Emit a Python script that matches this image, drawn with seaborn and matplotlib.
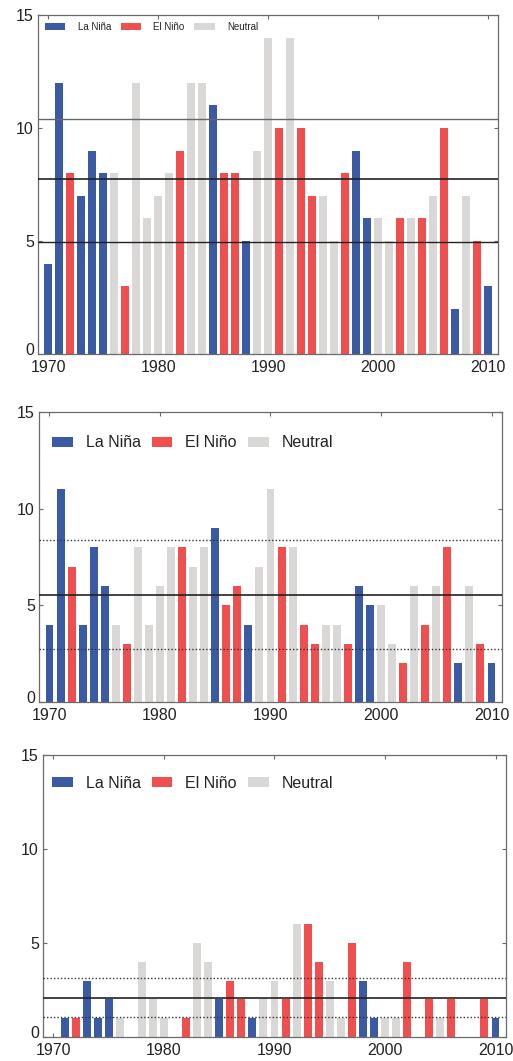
import matplotlib
matplotlib.use("Agg")
import matplotlib.pyplot as plt
import matplotlib.transforms as mtransforms
from matplotlib.patches import Patch
import seaborn as sns
import pandas as pd

years = list(range(1970, 2011))
phase = ["La Niña", "La Niña", "El Niño", "La Niña", "La Niña", "La Niña", "Neutral", "El Niño", "Neutral", "Neutral",
         "Neutral", "Neutral", "El Niño", "Neutral", "Neutral", "La Niña", "El Niño", "El Niño", "La Niña", "Neutral",
         "Neutral", "El Niño", "Neutral", "El Niño", "El Niño", "Neutral", "Neutral", "El Niño", "La Niña", "La Niña",
         "Neutral", "Neutral", "El Niño", "Neutral", "El Niño", "Neutral", "El Niño", "La Niña", "Neutral", "El Niño",
         "La Niña"]
counts_top = [4, 12, 8, 7, 9, 8, 8, 3, 12, 6,
              7, 8, 9, 12, 12, 11, 8, 8, 5, 9,
              14, 10, 14, 10, 7, 7, 5, 8, 9, 6,
              6, 5, 6, 6, 6, 7, 10, 2, 7, 5, 3]
counts_mid = [4, 11, 7, 4, 8, 6, 4, 3, 8, 4,
              6, 8, 8, 7, 8, 9, 5, 6, 4, 7,
              11, 8, 8, 4, 3, 4, 4, 3, 6, 5,
              5, 3, 2, 6, 4, 6, 8, 2, 6, 3, 2]
counts_bot = [0, 1, 1, 3, 1, 2, 1, 0, 4, 2,
              1, 0, 1, 5, 4, 2, 3, 2, 1, 2,
              3, 2, 6, 6, 4, 3, 1, 5, 3, 1,
              1, 1, 4, 0, 2, 1, 2, 0, 0, 2, 1]
# reference levels: upper, mean, lower
ref_top = [10.42, 7.75, 4.97]
ref_mid = [8.4, 5.55, 2.75]
ref_bot = [3.15, 2.08, 1.08]

phases = ["La Niña", "El Niño", "Neutral"]
colors = ["#3A5AA3", "#F04F4F", "#DAD7D7"]
palette = dict(zip(phases, colors))
xticks = [1970, 1980, 1990, 2000, 2010]
yticks = [0, 5, 10, 15]

sns.set_style("ticks")
plt.rcParams["font.family"] = ["Liberation Sans", "DejaVu Sans"]
plt.rcParams["xtick.direction"] = "in"
plt.rcParams["ytick.direction"] = "in"

W, H = 513, 1061
fig = plt.figure(figsize=(W / 100, H / 100), dpi=100)

panels = [
    dict(vals=counts_top, ref=ref_top, box=(38, 15, 498, 354), band_style="-",
         leg_fs=7, leg=dict(handlelength=2.1, handletextpad=1.25, columnspacing=1.0, handleheight=0.75),
         leg_anchor=(7, 12)),
    dict(vals=counts_mid, ref=ref_mid, box=(39, 412, 502, 702), band_style=":",
         leg_fs=11.5, leg=dict(handlelength=1.3, handletextpad=0.8, columnspacing=0.7, handleheight=0.55),
         leg_anchor=(13, 31)),
    dict(vals=counts_bot, ref=ref_bot, box=(43, 755, 506, 1037), band_style=":",
         leg_fs=11.5, leg=dict(handlelength=1.3, handletextpad=0.8, columnspacing=0.7, handleheight=0.55),
         leg_anchor=(9, 28)),
]

for p in panels:
    l, t, r, b = p["box"]
    ax = fig.add_axes([l / W, 1 - b / H, (r - l) / W, (b - t) / H])
    df = pd.DataFrame({"year": years, "count": p["vals"], "phase": phase})
    sns.barplot(data=df, x="year", y="count", hue="phase", hue_order=phases, palette=palette,
                native_scale=True, dodge=False, width=0.72, saturation=1, legend=False,
                errorbar=None, linewidth=0, ax=ax)
    up, mean, lo = p["ref"]
    if p["band_style"] == "-":
        ax.axhline(up, color="#666666", lw=1.0, zorder=3)
        ax.axhline(mean, color="#222222", lw=1.2, zorder=3)
        ax.axhline(lo, color="#222222", lw=1.0, zorder=3)
    else:
        ax.axhline(up, color="#333333", lw=1.0, ls=(0, (1, 1.5)), zorder=3)
        ax.axhline(mean, color="#222222", lw=1.2, zorder=3)
        ax.axhline(lo, color="#333333", lw=1.0, ls=(0, (1, 1.5)), zorder=3)
    ax.set_xlim(1969.05, 2010.95)
    ax.set_ylim(0, 15)
    ax.set_xticks(xticks)
    ax.set_xticklabels([str(v) for v in xticks])
    ax.set_yticks(yticks)
    ax.set_yticklabels([str(v) for v in yticks])
    ax.set_xlabel("")
    ax.set_ylabel("")
    for s in ax.spines.values():
        s.set_visible(True)
        s.set_color("#6a6a6a")
        s.set_linewidth(0.9)
    ax.tick_params(axis="both", which="both", top=True, right=True, direction="in",
                   length=3, width=0.8, color="#6a6a6a", labelsize=11.5, labelcolor="#222222")
    ax.tick_params(axis="x", pad=4)
    ax.tick_params(axis="y", pad=3)
    # the "0" label sits slightly above the x axis, as in the original
    zero_lab = ax.get_yticklabels()[0]
    zero_lab.set_transform(zero_lab.get_transform() +
                           mtransforms.ScaledTranslation(0, 5 / 100, fig.dpi_scale_trans))
    handles = [Patch(facecolor=c, edgecolor="none", label=n) for n, c in zip(phases, colors)]
    dx, dy = p["leg_anchor"]
    ax.legend(handles=handles, ncol=3, loc="center left", frameon=False,
              bbox_to_anchor=(dx / (r - l), 1 - dy / (b - t)), borderaxespad=0, borderpad=0,
              fontsize=p["leg_fs"], labelcolor="#222222", **p["leg"])

fig.savefig("out.png", dpi=100)
